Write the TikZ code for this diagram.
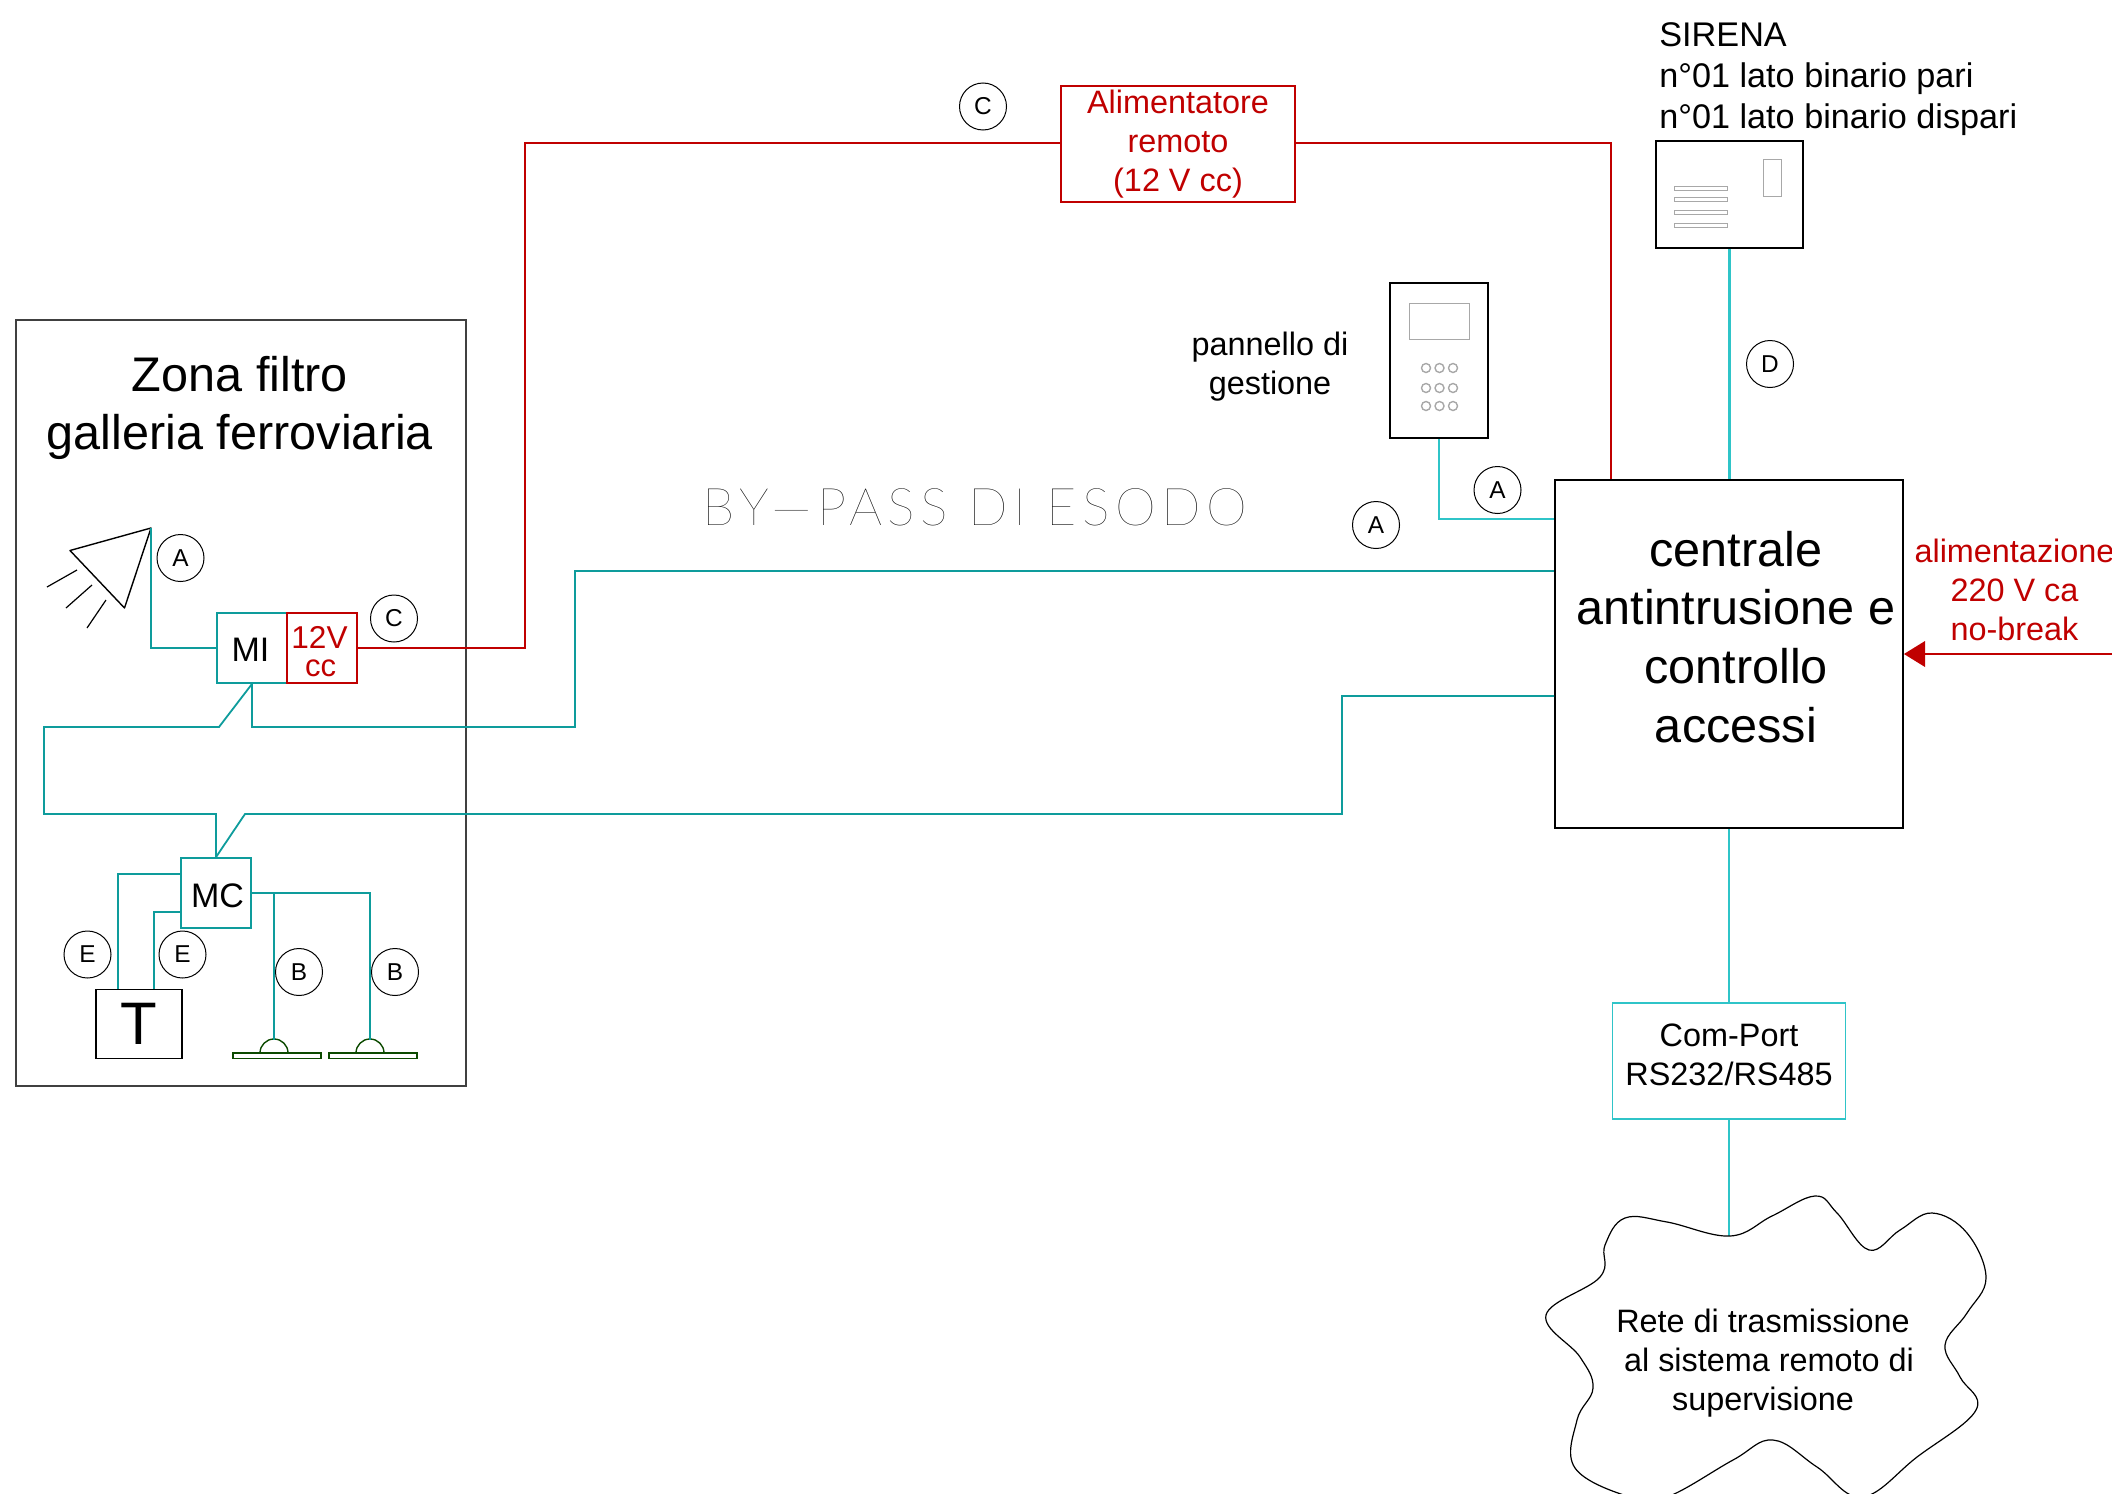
\documentclass[tikz,border=0pt]{standalone}
\usepackage{fontspec}
\setmainfont{Liberation Sans}
\newfontfamily\thinfont[LetterSpace=10.5]{Lato Thin}
\definecolor{tealw}{HTML}{0E9C9C}
\definecolor{cyanw}{HTML}{2FC4C8}
\definecolor{redw}{HTML}{C00000}
\definecolor{greenw}{HTML}{0C4A00}
\definecolor{greyw}{HTML}{A8A8A8}
\tikzset{
  wireT/.style={draw=tealw,line width=0.9pt},
  wireC/.style={draw=cyanw,line width=1.1pt},
  wireR/.style={draw=redw,line width=0.8pt},
  boxK/.style={draw=black,line width=0.9pt,inner sep=0pt,align=center},
  boxT/.style={draw=tealw,line width=0.9pt,inner sep=0pt,align=center},
  boxC/.style={draw=cyanw,line width=0.9pt,inner sep=0pt,align=center},
  boxR/.style={draw=redw,line width=0.8pt,inner sep=0pt,align=center},
  tag/.style={circle,draw=black,line width=0.5pt,minimum size=23.5pt,inner sep=0pt,font=\fontsize{12.2}{14}\selectfont},
  lbl/.style={inner sep=0pt,align=center,font=\fontsize{16.2}{19.5}\selectfont},
  big/.style={inner sep=0pt,align=center,font=\fontsize{24.3}{29.4}\selectfont},
  fine/.style={draw=greyw,line width=0.5pt},
}
\begin{document}
\begin{tikzpicture}[x=0.5pt,y=-0.5pt]
\useasboundingbox (0,0) rectangle (2112,1493);
\clip (0,0) rectangle (2112,1493);
% zone
\node[draw=black!75,line width=0.6pt,minimum width=225pt,minimum height=383pt,inner sep=0pt] (zone) at (241,703) {};
\node[big] (zonetxt) at (240,408) {Zona filtro\\galleria ferroviaria};
% boxes
\node[boxT,minimum width=35pt,minimum height=35pt] (mi) at (252,648) {};
\node[inner sep=0pt,font=\fontsize{17}{19}\selectfont] (mitxt) at (250.5,650) {MI};
\node[boxR,minimum width=35pt,minimum height=35pt] (cc) at (322,648) {};
\node[inner sep=0pt,text=redw,font=\fontsize{15.8}{18}\selectfont] (v12) at (319.5,637) {12V};
\node[inner sep=0pt,text=redw,font=\fontsize{15.5}{17}\selectfont] (cctxt) at (320.5,668) {cc};
\node[boxT,minimum width=35pt,minimum height=35pt] (mc) at (216,893) {};
\node[inner sep=0pt,font=\fontsize{17}{19}\selectfont] (mctxt) at (217.5,895.5) {MC};
\node[boxK,minimum width=43pt,minimum height=34.5pt] (tbox) at (139,1024) {\fontsize{30}{32}\selectfont T};
\node[boxR,minimum width=117pt,minimum height=58pt,text=redw,font=\fontsize{16.2}{19.5}\selectfont] (alim) at (1178,144) {Alimentatore\\remoto\\(12 V cc)};
\node[boxK,minimum width=174pt,minimum height=174pt] (central) at (1729,654) {};
\node[big] (centraltxt) at (1736,637) {centrale\\antintrusione e\\controllo\\accessi};
\node[boxC,minimum width=116.5pt,minimum height=58pt] (com) at (1729,1061) {};
\node[lbl] (comtxt) at (1729,1054.5) {Com-Port\\RS232/RS485};
% sirena
\node[boxK,minimum width=73.5pt,minimum height=53.5pt] (sirena) at (1729.5,194.5) {};
\draw[fine] (1763,159) rectangle (1781,196);
\foreach \yy in {186.5,197.7,210.5,223}{\draw[fine] (1674,\yy) rectangle (1727,\yy+4);}
\node[inner sep=0pt,align=left,anchor=west,font=\fontsize{17.1}{20.6}\selectfont] (sirenatxt) at (1659,79) {SIRENA\\n°01 lato binario pari\\n°01 lato binario dispari};
% panel
\node[boxK,minimum width=49pt,minimum height=77.5pt] (panel) at (1439,360.5) {};
\draw[fine] (1409,303) rectangle (1469,339);
\foreach \yy in {368,388,406}{\foreach \xx in {1426,1439.5,1453}{\draw[draw=greyw,line width=0.7pt] (\xx,\yy) circle[radius=4.5];}}
\node[lbl] (paneltxt) at (1270,367) {pannello di\\gestione};
% by-pass
\node[inner sep=0pt,font=\thinfont\fontsize{26}{30}\selectfont] (bypass) at (975,507) {BY—PASS DI ESODO};
% lamp
\coordinate (lamptip) at (151,528);
\draw[line width=0.7pt,line join=round] (lamptip) -- (70,550.5) -- (124.5,608) -- cycle;
\draw[line width=0.6pt] (47,587) -- (77,570) (66,608) -- (92,585) (87,628) -- (106,600);
% sensors
\foreach \nm/\xa in {s1/274,s2/370}{
  \draw[draw=greenw,fill=white,line width=0.7pt] (\xa-41,1053) rectangle (\xa+47,1058.5);
  \draw[draw=greenw,line width=0.7pt] (\xa-14,1053) arc[start angle=180,end angle=0,radius=7pt];
  \coordinate (\nm) at (\xa,1040);
}
% wires
\draw[wireT] (lamptip) -- (151,648) -- (mi.west);
\draw[wireT] (mi.south) -- (252,727) -- (575,727) -- (575,571) -- (central.west |- 0,571);
\draw[wireT] (mi.south) -- (219,727) -- (44,727) -- (44,814) -- (216,814) -- (mc.north);
\draw[wireT] (mc.north) -- (245,814) -- (1342,814) -- (1342,696) -- (central.west |- 0,696);
\draw[wireT] (mc.west |- 0,874) -- (118,874) -- (118,1007 |- tbox.north);
\draw[wireT] (mc.west |- 0,912) -- (154,912) -- (154,1007 |- tbox.north);
\draw[wireT] (mc.east) -- (370,893) -- (s2);
\draw[wireT] (274,893) -- (s1);
\draw[wireR] (cc.east) -- (525,648) -- (525,143) -- (alim.west |- 0,143);
\draw[wireR] (alim.east |- 0,143) -- (1611,143) -- (1611,480 |- central.north);
\draw[wireC] (panel.south) -- (1439,519) -- (central.west |- 0,519);
\draw[wireC] (sirena.south) -- (central.north -| sirena.south);
\draw[wireC] (central.south -| com.north) -- (com.north);
\coordinate (cloudtop) at (1729,1236);
\draw[wireC] (com.south) -- (cloudtop);
% power arrow
\coordinate (pwr) at (2112,654);
\draw[redw,line width=0.9pt] (pwr) -- (1925,654);
\fill[redw] (central.east) -- (1925,641) -- (1925,667) -- cycle;
\node[lbl,text=redw] (pwrtxt) at (2014.5,590) {alimentazione\\220 V ca\\no-break};
% cloud
\draw[line width=0.6pt] plot[smooth cycle,tension=0.65] coordinates {(1730,1236)(1772,1216)(1815,1196)(1837,1213)(1869,1250)(1900,1230)(1932,1213)(1967,1233)(1986,1278)(1967,1313)(1945,1345)(1960,1377)(1976,1410)(1917,1457)(1862,1497)(1817,1467)(1773,1440)(1733,1460)(1667,1497)(1630,1497)(1575,1468)(1577,1420)(1593,1388)(1580,1357)(1546,1315)(1600,1277)(1605,1245)(1625,1218)(1667,1222)};
\node[lbl] (cloudtxt) at (1763,1363) {Rete di trasmissione\\\hspace*{6pt}al sistema remoto di\\supervisione};
% tags
\node[tag] (tA1) at (180.5,558) {A};
\node[tag] (tC1) at (394,618.5) {C};
\node[tag] (tC2) at (983,106.5) {C};
\node[tag] (tD) at (1770,364) {D};
\node[tag] (tA2) at (1497.5,490) {A};
\node[tag] (tA3) at (1376,525) {A};
\node[tag] (tE1) at (87.5,954.5) {E};
\node[tag] (tE2) at (182.5,954.5) {E};
\node[tag] (tB1) at (299,972) {B};
\node[tag] (tB2) at (395,972) {B};
\end{tikzpicture}
\end{document}
